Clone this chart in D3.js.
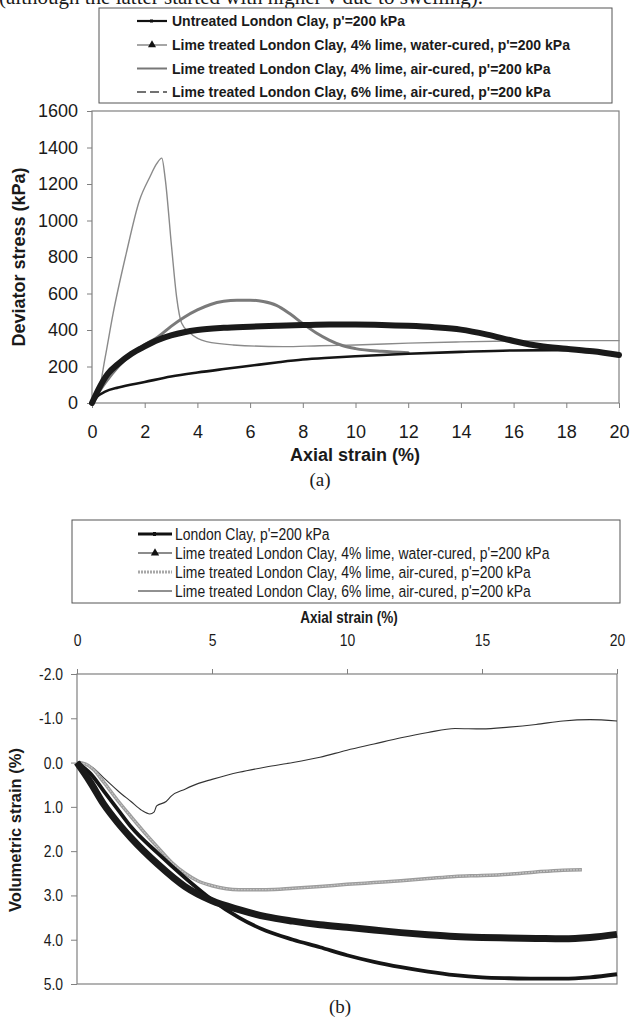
<!DOCTYPE html>
<html>
<head>
<meta charset="utf-8">
<script src="https://cdn.jsdelivr.net/npm/d3@7/dist/d3.min.js"></script>
<style>
  body { margin: 0; background: #fff; }
  svg text { font-family: "Liberation Sans", Arial, sans-serif; fill: #1a1a1a; }
</style>
</head>
<body>
<svg id="chart" width="631" height="1019"></svg>
<script>
// ---- tick labels
const xTicksA = [0, 2, 4, 6, 8, 10, 12, 14, 16, 18, 20];
const yTicksA = [0, 200, 400, 600, 800, 1000, 1200, 1400, 1600];
const xTicksB = [0, 5, 10, 15, 20];
const yTicksB = [-2, -1, 0, 1, 2, 3, 4, 5];

// ---- legend labels
const legendA = [
  "Untreated London Clay, p'=200 kPa",
  "Lime treated London Clay, 4% lime, water-cured, p'=200 kPa",
  "Lime treated London Clay, 4% lime, air-cured, p'=200 kPa",
  "Lime treated London Clay, 6% lime, air-cured, p'=200 kPa"
];
const legendB = [
  "London Clay, p'=200 kPa",
  "Lime treated London Clay, 4% lime, water-cured, p'=200 kPa",
  "Lime treated London Clay, 4% lime, air-cured, p'=200 kPa",
  "Lime treated London Clay, 6% lime, air-cured, p'=200 kPa"
];

// ---- (a) deviator stress (kPa) vs axial strain (%)
const untreatedA = [[0,0],[0.2,35],[0.5,62],[1,85],[2,115],[3,145],[4,167],[5,186],[6,204],[7,222],[8,238],[9,248],[10,256],[12,270],[14,280],[16,288],[18,290],[19,282],[20,265]];
const waterCuredA = [[0,0],[0.3,90],[0.6,160],[1,215],[1.5,270],[2,310],[2.5,345],[3,370],[3.5,388],[4,400],[5,412],[6,418],[7,423],[8,427],[9,430],[10,430],[11,428],[12,423],[13,415],[14,402],[15,375],[16,340],[17,312],[18,297],[19,283],[20,263]];
const airCured4A = [[0,0],[0.5,110],[1,200],[1.5,270],[2,320],[2.5,362],[3,420],[3.5,470],[4,510],[4.5,540],[5,557],[5.5,563],[6,563],[6.5,556],[7,535],[7.5,490],[8,435],[8.5,385],[9,345],[9.5,315],[10,298],[11,283],[12,276]];
const airCured6A = [[0,0],[0.2,30],[0.5,250],[0.8,490],[1.3,820],[1.8,1110],[2.2,1240],[2.45,1310],[2.65,1342],[2.78,1227],[3.02,856],[3.21,582],[3.4,438],[3.72,383],[4.35,336],[5.36,318],[7.26,309],[8.65,314],[10,318],[12,328],[14,335],[16,340],[18,342],[20,342]];

// ---- (b) volumetric strain (%) vs axial strain (%)
const londonB = [[0,0],[0.5,0.25],[1,0.65],[1.5,1.05],[2,1.45],[3,2.05],[4,2.6],[5,3.1],[6,3.5],[7,3.8],[8,4.0],[9,4.17],[10,4.35],[11,4.5],[12,4.62],[13,4.72],[14,4.8],[15,4.85],[16,4.87],[17,4.88],[18,4.88],[19,4.85],[20,4.78]];
const waterCuredB = [[0,0],[0.5,0.45],[1,0.95],[1.5,1.35],[2,1.7],[3,2.3],[4,2.8],[5,3.12],[6,3.32],[7,3.48],[8,3.58],[9,3.66],[10,3.72],[11,3.78],[12,3.84],[13,3.89],[14,3.93],[15,3.95],[16,3.96],[17,3.97],[18,3.98],[19,3.95],[20,3.88]];
const airCured4B = [[0,0],[0.3,0.03],[0.6,0.15],[1,0.45],[1.5,0.85],[2,1.22],[2.5,1.58],[3,1.92],[3.5,2.25],[4,2.5],[4.5,2.68],[5,2.78],[6,2.87],[7,2.87],[8,2.84],[9,2.8],[10,2.75],[11,2.71],[12,2.67],[13,2.62],[14,2.57],[15,2.55],[16,2.52],[17,2.47],[18,2.43],[18.7,2.42]];
const airCured6B = [[0,0],[0.3,0.03],[0.6,0.12],[1,0.35],[1.5,0.63],[2,0.88],[2.4,1.08],[2.7,1.16],[2.85,1.12],[2.95,0.98],[3.3,0.88],[3.5,0.75],[4,0.6],[4.5,0.47],[5,0.38],[6,0.22],[7,0.1],[8,0.0],[9,-0.12],[10,-0.28],[11,-0.42],[12,-0.56],[13,-0.68],[14,-0.77],[15,-0.76],[16,-0.8],[17,-0.86],[18,-0.94],[19,-0.97],[20,-0.94]];

const svg = d3.select('#chart');
const axisGrey = '#808080';
const NARROW = 0.82;

// clipped caption line from the page above
svg.append('text')
  .attr('x', -1).attr('y', 4)
  .style('font-family', '"Liberation Serif", "Times New Roman", serif')
  .style('font-size', '21px')
  .text('(although the latter started with higher v due to swelling).');

// squeeze text horizontally (panel b looks like Arial Narrow)
function narrow(sel, k) {
  sel.each(function () {
    const t = d3.select(this);
    const x = +t.attr('x') || 0;
    t.attr('x', 0).attr('transform', 'translate(' + x + ',0) scale(' + k + ',1)');
  });
}

function styleAxis(g, size) {
  g.select('.domain').remove();
  g.selectAll('.tick line').attr('stroke', axisGrey);
  g.selectAll('.tick text').style('font-size', size + 'px').attr('fill', '#1a1a1a');
}

// ================= panel (a)
const xA = d3.scaleLinear().domain([0, 20]).range([92, 619]);
const yA = d3.scaleLinear().domain([0, 1600]).range([403, 111]);

// legend (a)
const legA = svg.append('g');
legA.append('rect').attr('x', 99).attr('y', 8).attr('width', 513).attr('height', 95)
  .attr('fill', '#fff').attr('stroke', '#555').attr('stroke-width', 1);
const rowsA = [21, 45, 68.5, 92];
legendA.forEach((txt, i) => {
  const y = rowsA[i];
  const ln = legA.append('line').attr('x1', 137).attr('x2', 167).attr('y1', y).attr('y2', y);
  if (i === 0) ln.attr('stroke', '#111').attr('stroke-width', 2.2);
  if (i === 1) ln.attr('stroke', '#888').attr('stroke-width', 1.5);
  if (i === 2) ln.attr('stroke', '#777').attr('stroke-width', 2);
  if (i === 3) ln.attr('stroke', '#444').attr('stroke-width', 1.4).attr('stroke-dasharray', '9,4');
  if (i === 0) legA.append('rect').attr('x', 150).attr('y', y - 1.5).attr('width', 3).attr('height', 3).attr('fill', '#111');
  if (i === 1) legA.append('path').attr('d', d3.symbol(d3.symbolTriangle, 28)()).attr('transform', 'translate(152,' + y + ')').attr('fill', '#111');
  legA.append('text').attr('x', 172).attr('y', y).attr('dy', '0.36em')
    .style('font-size', '14px').style('font-weight', 'bold').text(txt);
});

svg.append('rect').attr('x', 92).attr('y', 111).attr('width', 527).attr('height', 292)
  .attr('fill', '#fff').attr('stroke', axisGrey).attr('stroke-width', 1.2);

const axLA = svg.append('g').attr('transform', 'translate(92,0)')
  .call(d3.axisLeft(yA).tickValues(yTicksA).tickSize(5).tickPadding(9).tickFormat(d3.format('d')));
styleAxis(axLA, 18);
const axBA = svg.append('g').attr('transform', 'translate(0,403)')
  .call(d3.axisBottom(xA).tickValues(xTicksA).tickSize(5).tickPadding(17).tickFormat(d3.format('d')));
styleAxis(axBA, 18);

svg.append('text').attr('transform', 'translate(25,257) rotate(-90)')
  .attr('text-anchor', 'middle').style('font-size', '18px').style('font-weight', 'bold')
  .text('Deviator stress (kPa)');
svg.append('text').attr('x', 355).attr('y', 461).attr('text-anchor', 'middle')
  .style('font-size', '18px').style('font-weight', 'bold').text('Axial strain (%)');
svg.append('text').attr('x', 320).attr('y', 486).attr('text-anchor', 'middle')
  .style('font-family', '"Liberation Serif", "Times New Roman", serif').style('font-size', '19px')
  .text('(a)');

const lineA = d3.line().x(d => xA(d[0])).y(d => yA(d[1])).curve(d3.curveMonotoneX);
const seriesA = [
  { data: airCured6A, color: '#8a8a8a', w: 1.4 },
  { data: airCured4A, color: '#7a7a7a', w: 3 },
  { data: untreatedA, color: '#151515', w: 2.6 },
  { data: waterCuredA, color: '#1a1a1a', w: 6 }
];
seriesA.forEach(s => {
  svg.append('path').datum(s.data).attr('d', lineA)
    .attr('fill', 'none').attr('stroke', s.color).attr('stroke-width', s.w)
    .attr('stroke-linejoin', 'round').attr('stroke-linecap', 'round');
});

// ================= panel (b)
const xB = d3.scaleLinear().domain([0, 20]).range([77, 617]);
const yB = d3.scaleLinear().domain([-2, 5]).range([674, 984]);

const legB = svg.append('g');
legB.append('rect').attr('x', 72).attr('y', 520).attr('width', 548).attr('height', 83)
  .attr('fill', '#fff').attr('stroke', '#555').attr('stroke-width', 1);
const rowsB = [534, 553, 572, 591];
legendB.forEach((txt, i) => {
  const y = rowsB[i];
  const ln = legB.append('line').attr('x1', 138).attr('x2', 172).attr('y1', y).attr('y2', y);
  if (i === 0) ln.attr('stroke', '#111').attr('stroke-width', 3);
  if (i === 1) ln.attr('stroke', '#666').attr('stroke-width', 1.3);
  if (i === 2) ln.attr('stroke', '#a8a8a8').attr('stroke-width', 3).attr('stroke-dasharray', '2,1');
  if (i === 3) ln.attr('stroke', '#222').attr('stroke-width', 1);
  if (i === 0) legB.append('rect').attr('x', 153).attr('y', y - 2).attr('width', 3).attr('height', 4).attr('fill', '#111');
  if (i === 1) legB.append('path').attr('d', d3.symbol(d3.symbolTriangle, 30)()).attr('transform', 'translate(155,' + y + ')').attr('fill', '#111');
  legB.append('text').attr('x', 175).attr('y', y).attr('dy', '0.36em')
    .style('font-size', '17px').text(txt);
});
narrow(legB.selectAll('text'), NARROW);

svg.append('rect').attr('x', 77).attr('y', 674).attr('width', 540).attr('height', 310)
  .attr('fill', '#fff').attr('stroke', axisGrey).attr('stroke-width', 1.2);

const axTB = svg.append('g').attr('transform', 'translate(0,674)')
  .call(d3.axisTop(xB).tickValues(xTicksB).tickSize(5).tickPadding(23).tickFormat(d3.format('d')));
styleAxis(axTB, 17);
narrow(axTB.selectAll('.tick text'), NARROW);
const axLB = svg.append('g').attr('transform', 'translate(77,0)')
  .call(d3.axisLeft(yB).tickValues(yTicksB).tickSize(6).tickPadding(8).tickFormat(d => d.toFixed(1)));
styleAxis(axLB, 17);
narrow(axLB.selectAll('.tick text'), NARROW);

const xTitleB = svg.append('text').attr('x', 349).attr('y', 623).attr('text-anchor', 'middle')
  .style('font-size', '16.5px').style('font-weight', 'bold').text('Axial strain (%)');
narrow(xTitleB, NARROW);
svg.append('text').attr('transform', 'translate(21,830) rotate(-90)')
  .attr('text-anchor', 'middle').style('font-size', '16.5px').style('font-weight', 'bold')
  .text('Volumetric strain (%)');
svg.append('text').attr('x', 340).attr('y', 1013).attr('text-anchor', 'middle')
  .style('font-family', '"Liberation Serif", "Times New Roman", serif').style('font-size', '19px')
  .text('(b)');

const lineB = d3.line().x(d => xB(d[0])).y(d => yB(d[1])).curve(d3.curveMonotoneX);
const seriesB = [
  { data: airCured6B, color: '#333', w: 1.1 },
  { data: airCured4B, color: '#9c9c9c', w: 3.5, dash: '2,1' },
  { data: londonB, color: '#151515', w: 3.8 },
  { data: waterCuredB, color: '#1a1a1a', w: 7 }
];
seriesB.forEach(s => {
  const p = svg.append('path').datum(s.data).attr('d', lineB)
    .attr('fill', 'none').attr('stroke', s.color).attr('stroke-width', s.w)
    .attr('stroke-linejoin', 'round');
  if (s.dash) {
    // lighter speckle on the grey air-cured trace
    svg.append('path').datum(s.data).attr('d', lineB)
      .attr('fill', 'none').attr('stroke', '#c4c4c4').attr('stroke-width', 1.2)
      .attr('stroke-dasharray', s.dash);
  }
});
</script>
</body>
</html>
